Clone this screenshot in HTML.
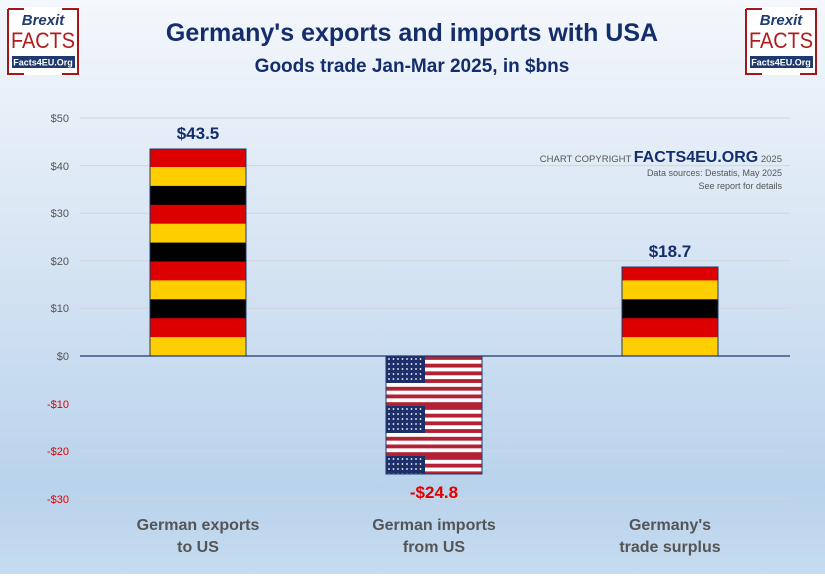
<!DOCTYPE html>
<html><head><meta charset="utf-8"><style>
html,body{margin:0;padding:0;}
body{width:825px;height:574px;overflow:hidden;font-family:"Liberation Sans",sans-serif;}
</style></head><body>
<svg width="825" height="574" xmlns="http://www.w3.org/2000/svg" font-family="Liberation Sans, sans-serif">
<defs>
<linearGradient id="bg" x1="0" y1="0" x2="0" y2="1">
<stop offset="0" stop-color="#f4f7fc"/>
<stop offset="0.45" stop-color="#d6e4f3"/>
<stop offset="0.85" stop-color="#b9d3ec"/>
<stop offset="1" stop-color="#c6dbef"/>
</linearGradient>
<pattern id="de" patternUnits="userSpaceOnUse" x="0" y="356" width="10" height="56.7">
<rect x="0" y="0" width="10" height="18.9" fill="#000"/>
<rect x="0" y="18.9" width="10" height="18.9" fill="#dd0000"/>
<rect x="0" y="37.8" width="10" height="18.9" fill="#ffce00"/>
</pattern>
<pattern id="us" patternUnits="userSpaceOnUse" x="386" y="356" width="96" height="50">
<rect width="96" height="50" fill="#fff"/>
<g fill="#b22234">
<rect y="0" width="96" height="3.85"/><rect y="7.7" width="96" height="3.85"/><rect y="15.4" width="96" height="3.85"/>
<rect y="23.1" width="96" height="3.85"/><rect y="30.8" width="96" height="3.85"/><rect y="38.5" width="96" height="3.85"/><rect y="46.2" width="96" height="3.8"/>
</g>
<rect width="39" height="27" fill="#1c2f6b"/>
<g fill="#fff">
<circle cx="3" cy="3" r="0.9"/><circle cx="7.5" cy="3" r="0.9"/><circle cx="12" cy="3" r="0.9"/><circle cx="16.5" cy="3" r="0.9"/><circle cx="21" cy="3" r="0.9"/><circle cx="25.5" cy="3" r="0.9"/><circle cx="30" cy="3" r="0.9"/><circle cx="34.5" cy="3" r="0.9"/>
<circle cx="3" cy="8" r="0.9"/><circle cx="7.5" cy="8" r="0.9"/><circle cx="12" cy="8" r="0.9"/><circle cx="16.5" cy="8" r="0.9"/><circle cx="21" cy="8" r="0.9"/><circle cx="25.5" cy="8" r="0.9"/><circle cx="30" cy="8" r="0.9"/><circle cx="34.5" cy="8" r="0.9"/>
<circle cx="3" cy="13" r="0.9"/><circle cx="7.5" cy="13" r="0.9"/><circle cx="12" cy="13" r="0.9"/><circle cx="16.5" cy="13" r="0.9"/><circle cx="21" cy="13" r="0.9"/><circle cx="25.5" cy="13" r="0.9"/><circle cx="30" cy="13" r="0.9"/><circle cx="34.5" cy="13" r="0.9"/>
<circle cx="3" cy="18" r="0.9"/><circle cx="7.5" cy="18" r="0.9"/><circle cx="12" cy="18" r="0.9"/><circle cx="16.5" cy="18" r="0.9"/><circle cx="21" cy="18" r="0.9"/><circle cx="25.5" cy="18" r="0.9"/><circle cx="30" cy="18" r="0.9"/><circle cx="34.5" cy="18" r="0.9"/>
<circle cx="3" cy="23" r="0.9"/><circle cx="7.5" cy="23" r="0.9"/><circle cx="12" cy="23" r="0.9"/><circle cx="16.5" cy="23" r="0.9"/><circle cx="21" cy="23" r="0.9"/><circle cx="25.5" cy="23" r="0.9"/><circle cx="30" cy="23" r="0.9"/><circle cx="34.5" cy="23" r="0.9"/>
</g>
</pattern>
</defs>
<rect width="825" height="574" fill="url(#bg)"/>
<!-- logos -->
<g>
<rect x="7" y="7" width="72" height="68" fill="#fff"/>
<path d="M8 9 V74 H24 M62 74 H78 V9 H62 M24 9 H8" fill="none" stroke="#a01818" stroke-width="2"/>
<text x="43" y="25" text-anchor="middle" font-size="15" font-weight="bold" font-style="italic" fill="#1f3a6e">Brexit</text>
<text x="43" y="48" text-anchor="middle" font-size="22" fill="#b01c1c" textLength="64" lengthAdjust="spacingAndGlyphs">FACTS</text>
<rect x="12" y="56" width="63" height="12" fill="#1f3a6e"/>
<text x="43" y="65.5" text-anchor="middle" font-size="9" font-weight="bold" fill="#fff">Facts4EU.Org</text>
</g>
<g transform="translate(738,0)">
<rect x="7" y="7" width="72" height="68" fill="#fff"/>
<path d="M8 9 V74 H24 M62 74 H78 V9 H62 M24 9 H8" fill="none" stroke="#a01818" stroke-width="2"/>
<text x="43" y="25" text-anchor="middle" font-size="15" font-weight="bold" font-style="italic" fill="#1f3a6e">Brexit</text>
<text x="43" y="48" text-anchor="middle" font-size="22" fill="#b01c1c" textLength="64" lengthAdjust="spacingAndGlyphs">FACTS</text>
<rect x="12" y="56" width="63" height="12" fill="#1f3a6e"/>
<text x="43" y="65.5" text-anchor="middle" font-size="9" font-weight="bold" fill="#fff">Facts4EU.Org</text>
</g>
<text x="412" y="41" text-anchor="middle" font-size="25" font-weight="bold" fill="#142d6b">Germany's exports and imports with USA</text>
<text x="412" y="72" text-anchor="middle" font-size="19" font-weight="bold" fill="#142d6b">Goods trade Jan-Mar 2025, in $bns</text>
<!-- gridlines -->
<g stroke="#cfd6de" stroke-width="1">
<line x1="80" y1="118" x2="790" y2="118"/><line x1="80" y1="165.6" x2="790" y2="165.6"/><line x1="80" y1="213.2" x2="790" y2="213.2"/><line x1="80" y1="260.8" x2="790" y2="260.8"/><line x1="80" y1="308.4" x2="790" y2="308.4"/>
<line x1="80" y1="403.6" x2="790" y2="403.6"/><line x1="80" y1="451.2" x2="790" y2="451.2"/><line x1="80" y1="498.8" x2="790" y2="498.8"/>
</g>
<g font-size="11" text-anchor="end" fill="#555">
<text x="69" y="122">$50</text><text x="69" y="170">$40</text><text x="69" y="217">$30</text><text x="69" y="265">$20</text><text x="69" y="312">$10</text><text x="69" y="360">$0</text>
<text x="69" y="408" fill="#e00000">-$10</text><text x="69" y="455" fill="#e00000">-$20</text><text x="69" y="503" fill="#e00000">-$30</text>
</g>
<!-- bars -->
<rect x="150" y="149" width="96" height="207" fill="url(#de)" stroke="#1f3a6e" stroke-width="1"/>
<rect x="386" y="356" width="96" height="118" fill="url(#us)" stroke="#1f3a6e" stroke-width="1"/>
<rect x="622" y="267" width="96" height="89" fill="url(#de)" stroke="#1f3a6e" stroke-width="1"/>
<line x1="80" y1="356" x2="790" y2="356" stroke="#1f3a6e" stroke-width="1.3"/>
<text x="198" y="139" text-anchor="middle" font-size="17" font-weight="bold" fill="#142d6b">$43.5</text>
<text x="434" y="498" text-anchor="middle" font-size="17" font-weight="bold" fill="#e00000">-$24.8</text>
<text x="670" y="257" text-anchor="middle" font-size="17" font-weight="bold" fill="#142d6b">$18.7</text>
<!-- copyright -->
<text x="782" y="162" text-anchor="end" font-size="9.5" fill="#555">CHART COPYRIGHT <tspan font-size="16" font-weight="bold" fill="#142d6b">FACTS4EU.ORG</tspan> 2025</text>
<text x="782" y="176" text-anchor="end" font-size="9" fill="#555">Data sources: Destatis, May 2025</text>
<text x="782" y="189" text-anchor="end" font-size="9" fill="#555">See report for details</text>
<!-- categories -->
<g font-size="16" font-weight="bold" fill="#555" text-anchor="middle">
<text x="198" y="530">German exports</text><text x="198" y="552">to US</text>
<text x="434" y="530">German imports</text><text x="434" y="552">from US</text>
<text x="670" y="530">Germany's</text><text x="670" y="552">trade surplus</text>
</g>
</svg>
</body></html>
